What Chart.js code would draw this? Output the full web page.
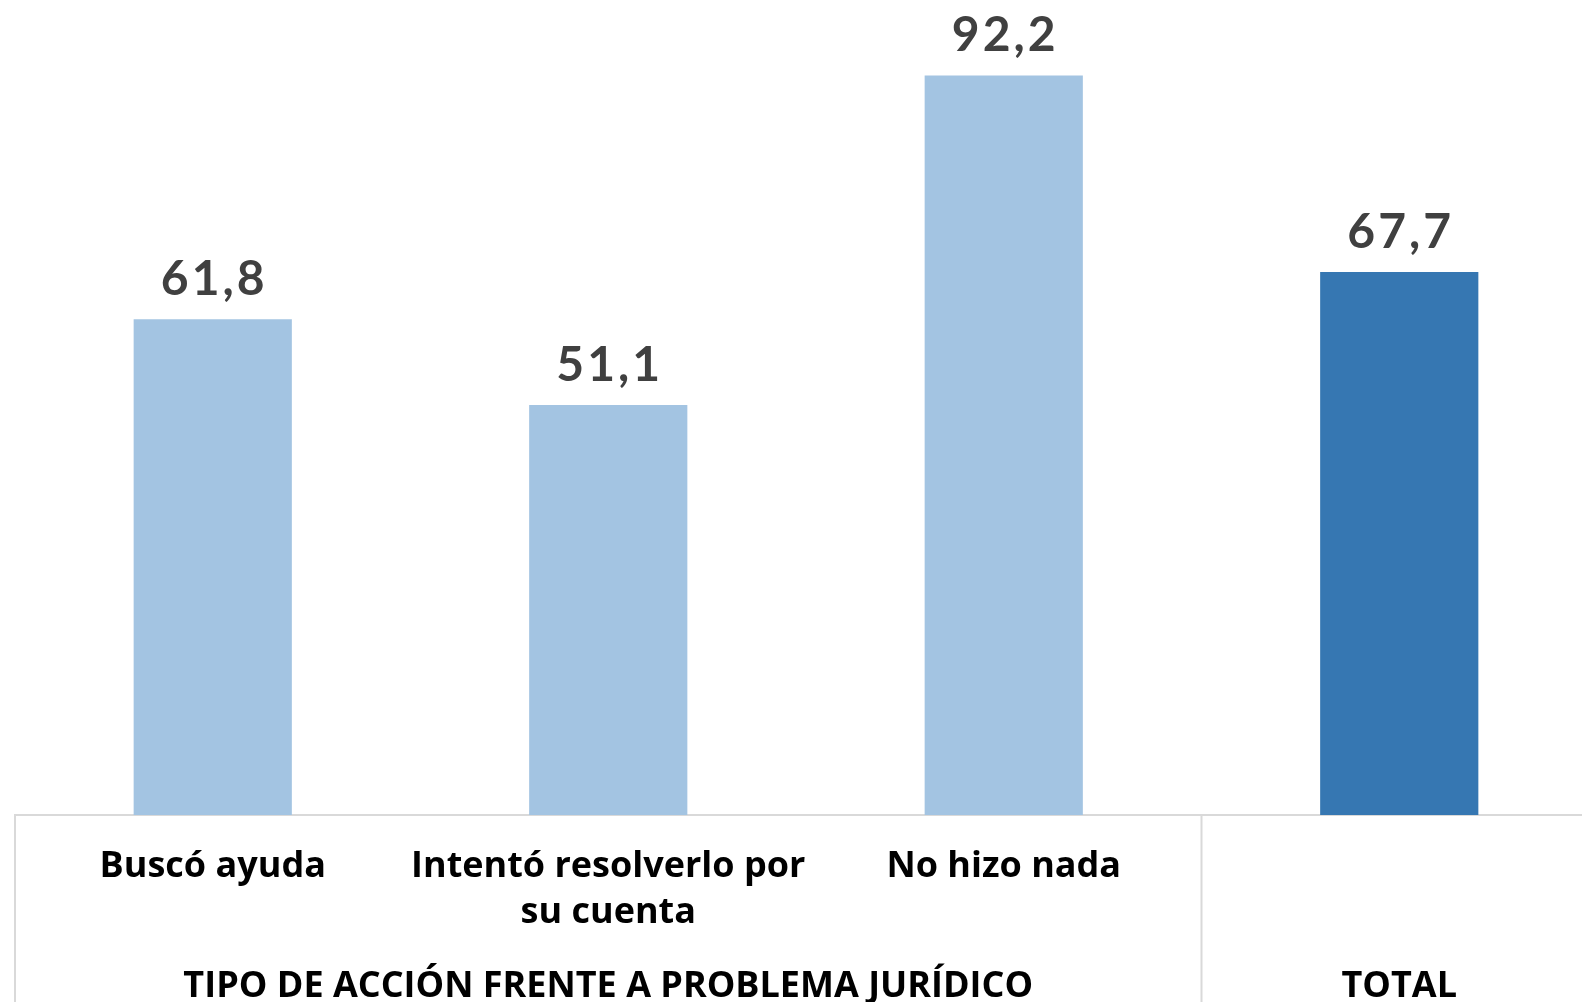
<!DOCTYPE html>
<html>
<head>
<meta charset="utf-8">
<script src="https://cdn.jsdelivr.net/npm/chart.js@4/dist/chart.umd.min.js"></script>
<style>
  html, body { margin: 0; padding: 0; background: #fff; overflow: hidden; }
  #wrap { position: absolute; left: 0; top: 0; width: 1597px; height: 1002px; }
</style>
</head>
<body>
<div id="wrap"><canvas id="grafico"></canvas></div>
<script>
// ====== DADOS ======
const categorias = [['Buscó ayuda'], ['Intentó resolverlo por', 'su cuenta'], ['No hizo nada'], ['']];
const valores = [61.8, 51.1, 92.2, 67.7];
const coresBarras = ['#A3C4E2', '#A3C4E2', '#A3C4E2', '#3677B2'];
// grupos: nome, primeiro índice, último índice
const grupos = [
  { nome: 'TIPO DE ACCIÓN FRENTE A PROBLEMA JURÍDICO', de: 0, ate: 2 },
  { nome: 'TOTAL', de: 3, ate: 3 }
];

const corLinha = '#D9D9D9';
const fonteTexto = '"Open Sans"';

// rótulos de valor acima das barras
const rotulosValor = {
  id: 'rotulosValor',
  afterDatasetsDraw(chart) {
    const ctx = chart.ctx;
    const meta = chart.getDatasetMeta(0);
    ctx.save();
    ctx.font = 'bold 48px Lato';
    ctx.letterSpacing = '3px';
    ctx.fillStyle = '#404040';
    ctx.textAlign = 'center';
    ctx.textBaseline = 'alphabetic';
    meta.data.forEach((bar, i) => {
      ctx.fillText(valores[i].toFixed(1).replace('.', ','), bar.x + 1.5, bar.y - 24);
    });
    ctx.restore();
  }
};

// eixo de categorias em dois níveis (linhas e nomes dos grupos)
const eixoGrupos = {
  id: 'eixoGrupos',
  afterDraw(chart) {
    const ctx = chart.ctx;
    const x = chart.scales.x;
    const base = chart.chartArea.bottom;
    const meio = (x.getPixelForValue(1) - x.getPixelForValue(0)) / 2;
    ctx.save();
    ctx.strokeStyle = corLinha;
    ctx.lineWidth = 2;
    grupos.forEach(g => {
      const esq = x.getPixelForValue(g.de) - meio;
      ctx.beginPath();
      ctx.moveTo(esq, base);
      ctx.lineTo(esq, chart.height);
      ctx.stroke();
    });
    ctx.font = 'bold 36px ' + fonteTexto;
    ctx.fillStyle = '#000';
    ctx.textAlign = 'center';
    ctx.textBaseline = 'alphabetic';
    grupos.forEach(g => {
      const cx = (x.getPixelForValue(g.de) + x.getPixelForValue(g.ate)) / 2;
      ctx.fillText(g.nome, cx, 997);
    });
    ctx.restore();
  }
};

new Chart(document.getElementById('grafico'), {
  type: 'bar',
  data: {
    labels: categorias,
    datasets: [{
      data: valores,
      backgroundColor: coresBarras,
      borderWidth: 0,
      barPercentage: 0.4,
      categoryPercentage: 1
    }]
  },
  options: {
    responsive: true,
    maintainAspectRatio: false,
    animation: false,
    layout: { padding: { left: 15, right: 0, top: 0, bottom: 0 } },
    plugins: { legend: { display: false }, tooltip: { enabled: false } },
    scales: {
      x: {
        grid: { display: false, drawTicks: false },
        border: { display: true, color: corLinha, width: 2 },
        ticks: {
          color: '#000',
          font: { family: fonteTexto, weight: 'bold', size: 36, lineHeight: 1.28 },
          padding: 29,
          maxRotation: 0,
          autoSkip: false
        },
        afterFit: scale => { scale.height = 187; }
      },
      y: { display: false, min: 0, max: 101.6 }
    }
  },
  plugins: [rotulosValor, eixoGrupos]
});
</script>
</body>
</html>
